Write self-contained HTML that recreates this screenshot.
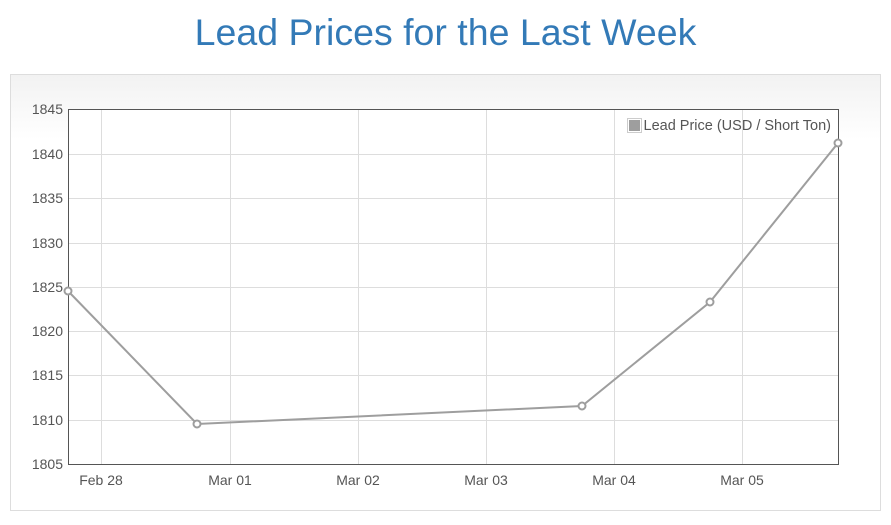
<!DOCTYPE html>
<html><head><style>
body{margin:0;width:891px;height:520px;background:#fff;overflow:hidden;font-family:"Liberation Sans",Arial,sans-serif;}
</style></head><body>
<svg width="891" height="520" xmlns="http://www.w3.org/2000/svg" font-family="Liberation Sans, Arial, sans-serif">
<defs><linearGradient id="g" x1="0" y1="0" x2="0" y2="1"><stop offset="0" stop-color="#f2f2f2"/><stop offset="0.15" stop-color="#ffffff"/></linearGradient></defs>
<text x="445.5" y="45" text-anchor="middle" font-size="37.5" fill="#337ab7">Lead Prices for the Last Week</text>
<rect x="10.5" y="74.5" width="870" height="436" fill="url(#g)" stroke="#dddddd"/>
<rect x="68" y="109" width="771" height="355" fill="#fff"/>
<g stroke="#dddddd" stroke-width="1">
<line x1="68" x2="839" y1="154.5" y2="154.5"/><line x1="68" x2="839" y1="198.5" y2="198.5"/><line x1="68" x2="839" y1="243.5" y2="243.5"/><line x1="68" x2="839" y1="287.5" y2="287.5"/><line x1="68" x2="839" y1="331.5" y2="331.5"/><line x1="68" x2="839" y1="375.5" y2="375.5"/><line x1="68" x2="839" y1="420.5" y2="420.5"/>
<line y1="109" y2="464" x1="101.5" x2="101.5"/><line y1="109" y2="464" x1="230.5" x2="230.5"/><line y1="109" y2="464" x1="358.5" x2="358.5"/><line y1="109" y2="464" x1="486.5" x2="486.5"/><line y1="109" y2="464" x1="614.5" x2="614.5"/><line y1="109" y2="464" x1="742.5" x2="742.5"/>
</g>
<rect x="68.5" y="109.5" width="770" height="355" fill="none" stroke="#555" stroke-width="1"/>
<g font-size="14" fill="#555" text-anchor="end">
<text x="63" y="114">1845</text><text x="63" y="159">1840</text><text x="63" y="203">1835</text><text x="63" y="248">1830</text><text x="63" y="292">1825</text><text x="63" y="336">1820</text><text x="63" y="380">1815</text><text x="63" y="425">1810</text><text x="63" y="469">1805</text>
</g>
<g font-size="14" fill="#555" text-anchor="middle">
<text x="101" y="485">Feb 28</text><text x="230" y="485">Mar 01</text><text x="358" y="485">Mar 02</text><text x="486" y="485">Mar 03</text><text x="614" y="485">Mar 04</text><text x="742" y="485">Mar 05</text>
</g>
<polyline points="68,291 197,424 582,406 710,302 838,143" fill="none" stroke="#9e9e9e" stroke-width="2"/>
<g fill="#fff" stroke="#9e9e9e" stroke-width="2">
<circle cx="68" cy="291" r="3.5"/><circle cx="197" cy="424" r="3.5"/><circle cx="582" cy="406" r="3.5"/><circle cx="710" cy="302" r="3.5"/><circle cx="838" cy="143" r="3.5"/>
</g>
<rect x="627.5" y="118.5" width="14" height="14" fill="#fff" stroke="#ccc"/>
<rect x="629" y="120" width="11" height="11" fill="#9e9e9e"/>
<text x="643.5" y="130" font-size="14.5" fill="#555">Lead Price (USD / Short Ton)</text>
</svg>
</body></html>
